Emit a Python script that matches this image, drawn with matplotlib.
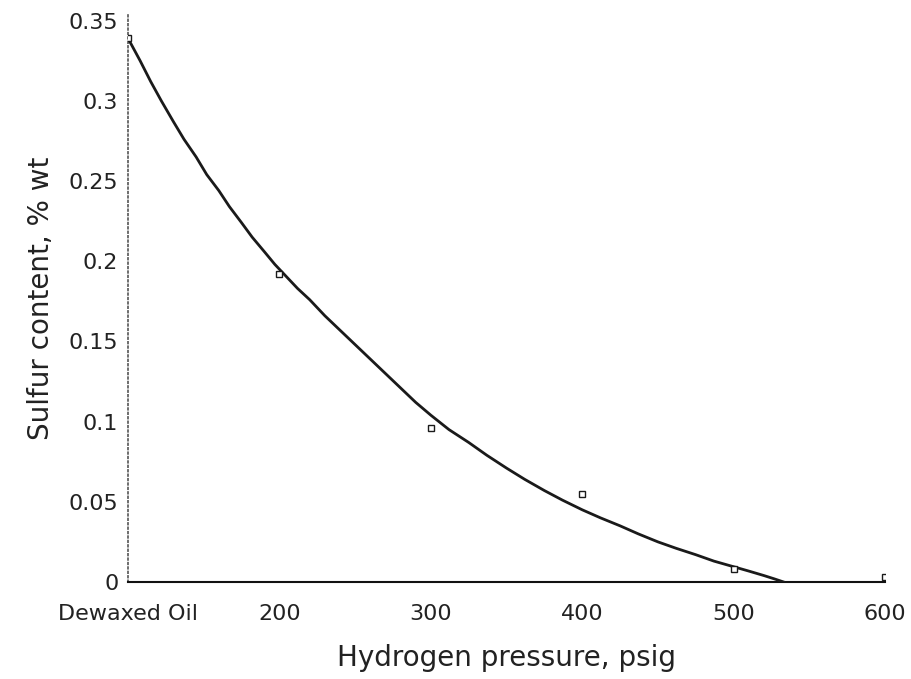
import matplotlib
matplotlib.use("Agg")
import matplotlib.pyplot as plt

# measured points (Dewaxed Oil placed at x=100)
pressure = [100, 200, 300, 400, 500, 600]
sulfur = [0.339, 0.192, 0.096, 0.055, 0.008, 0.003]

# fitted curve
curve_p = [100, 108, 115, 122, 130, 137, 145, 152, 160, 167, 175, 182, 190,
           197, 205, 212, 220, 230, 240, 250, 260, 270, 280, 290, 300,
           312, 325, 337, 350, 362, 375, 387, 400, 412, 425, 437, 450,
           462, 475, 487, 500, 510, 520, 527, 533]
curve_s = [0.339, 0.325, 0.312, 0.300, 0.287, 0.276, 0.265, 0.254, 0.244,
           0.234, 0.224, 0.215, 0.206, 0.198, 0.190, 0.183, 0.176, 0.166,
           0.157, 0.148, 0.139, 0.130, 0.121, 0.112, 0.104, 0.095, 0.087,
           0.079, 0.071, 0.064, 0.057, 0.051, 0.045, 0.040, 0.035, 0.030,
           0.025, 0.021, 0.017, 0.013, 0.0095, 0.0068, 0.0040, 0.0019, 0.0]

xticks = [100, 200, 300, 400, 500, 600]
xlabels = ["Dewaxed Oil", "200", "300", "400", "500", "600"]
yticks = [0, 0.05, 0.1, 0.15, 0.2, 0.25, 0.3, 0.35]
ylabels = ["0", "0.05", "0.1", "0.15", "0.2", "0.25", "0.3", "0.35"]

plt.rcParams['font.family'] = ['DejaVu Sans']

fig = plt.figure(figsize=(9.11, 6.79), dpi=100)
ax = fig.add_axes([0.1405, 0.1429, 0.8310, 0.8350])

ax.plot(curve_p, curve_s, color="#1a1a1a", lw=2.0, zorder=3)
ax.plot(pressure, sulfur, ls="none", marker="s", ms=4.5, mfc="white",
        mec="#1a1a1a", mew=1.0, zorder=4)

ax.set_xlim(100, 600)
ax.set_ylim(0, 0.3535)
ax.set_xticks(xticks)
ax.set_xticklabels(xlabels)
ax.set_yticks(yticks)
ax.set_yticklabels(ylabels)
ax.tick_params(axis="both", length=0, labelsize=16, colors="#222222")
ax.tick_params(axis="x", pad=16)
ax.tick_params(axis="y", pad=7)

for s in ["top", "right"]:
    ax.spines[s].set_visible(False)
ax.spines["bottom"].set_color("#111111")
ax.spines["bottom"].set_linewidth(1.5)
ax.spines["left"].set_color("#555555")
ax.spines["left"].set_linestyle(":")
ax.spines["left"].set_linewidth(1.2)

ax.set_xlabel("Hydrogen pressure, psig", fontsize=20, color="#222222", labelpad=14)
ax.set_ylabel("Sulfur content, % wt", fontsize=20, color="#222222", labelpad=10)

fig.savefig("out.png", dpi=100)
